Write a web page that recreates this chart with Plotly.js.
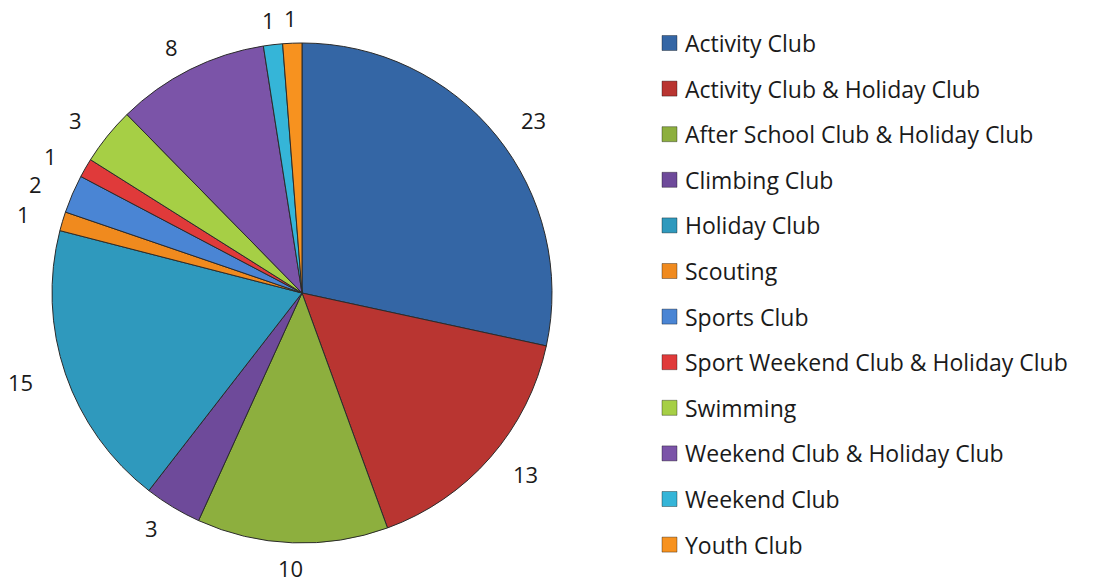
<!DOCTYPE html>
<html>
<head>
<meta charset="utf-8">
<script src="https://cdn.plot.ly/plotly-3.0.1.min.js"></script>
<style>html,body{margin:0;padding:0;background:#fff;}#chart{width:1110px;height:584px;}</style>
</head>
<body>
<div id="chart"></div>
<script>
const categories = [
  "Activity Club",
  "Activity Club & Holiday Club",
  "After School Club & Holiday Club",
  "Climbing Club",
  "Holiday Club",
  "Scouting",
  "Sports Club",
  "Sport Weekend Club & Holiday Club",
  "Swimming",
  "Weekend Club & Holiday Club",
  "Weekend Club",
  "Youth Club"
];
const counts = [23, 13, 10, 3, 15, 1, 2, 1, 3, 8, 1, 1];
const sliceColors = [
  "#3466A5", "#B93531", "#8DAF3E", "#6E4A9A", "#2F99BD", "#F08A1E",
  "#4A85D4", "#E03A3A", "#A6CF45", "#7B54A8", "#35B5D8", "#F7921F"
];

const W = 1110, H = 584;
const legendTop = 43, legendStep = 45.6, legendBoxX = 662, legendBox = 15, legendTextX = 683;
const FONT = "'Open Sans', Lato, sans-serif";

const shapes = [];
const annotations = [];
categories.forEach((name, i) => {
  const yc = legendTop + i * legendStep;
  shapes.push({
    type: "rect", xref: "paper", yref: "paper",
    x0: legendBoxX / W, x1: (legendBoxX + legendBox) / W,
    y0: 1 - (yc + legendBox / 2) / H, y1: 1 - (yc - legendBox / 2) / H,
    fillcolor: sliceColors[i], line: {color: "rgba(0,0,0,0.35)", width: 1}
  });
  annotations.push({
    xref: "paper", yref: "paper", x: legendTextX / W, y: 1 - yc / H,
    xanchor: "left", yanchor: "middle", showarrow: false, text: name,
    font: {family: FONT, size: 23, color: "#1a1a1a"}
  });
});

// Value labels outside the slices, placed from the slice mid-angles
const cx = 302, cy = 293, R = 250;
const labelRx = R + 34, labelRy = R + 14;
const total = counts.reduce((a, b) => a + b, 0);
let cum = 0;
counts.forEach((v) => {
  const mid = (cum + v / 2) / total * 2 * Math.PI;
  cum += v;
  const dx = Math.sin(mid), dy = -Math.cos(mid);
  const w = String(v).length * 13, h = 22;
  const px = cx + dx * labelRx + dx * w / 2;
  const py = cy + dy * labelRy + dy * h / 2;
  annotations.push({
    xref: "paper", yref: "paper", x: px / W, y: 1 - py / H,
    xanchor: "center", yanchor: "middle", showarrow: false, text: String(v),
    font: {family: FONT, size: 22, color: "#1a1a1a"}
  });
});

const data = [{
  type: "pie",
  labels: categories,
  values: counts,
  sort: false,
  direction: "clockwise",
  rotation: 0,
  marker: {colors: sliceColors, line: {color: "#2b2b2b", width: 1}},
  textinfo: "none",
  hoverinfo: "label+value",
  showlegend: false,
  domain: {x: [(cx - R) / W, (cx + R) / W], y: [1 - (cy + R) / H, 1 - (cy - R) / H]}
}];

const layout = {
  width: W, height: H,
  margin: {l: 0, r: 0, t: 0, b: 0},
  paper_bgcolor: "#ffffff",
  plot_bgcolor: "#ffffff",
  showlegend: false,
  shapes: shapes,
  annotations: annotations
};

Plotly.newPlot("chart", data, layout, {displayModeBar: false, staticPlot: true});
</script>
</body>
</html>
